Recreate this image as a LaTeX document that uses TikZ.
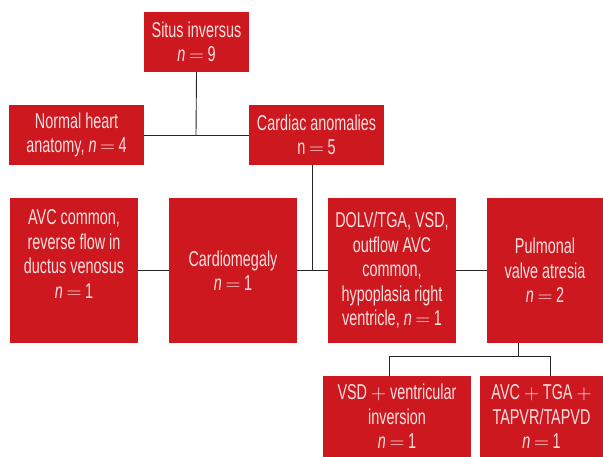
\documentclass[tikz,border=0pt]{standalone}
\usepackage{fontspec}
\setmainfont{Liberation Sans}[FakeStretch=0.67]
\definecolor{boxred}{RGB}{204,24,30}
\definecolor{txt}{RGB}{250,225,225}
\newcommand{\eqs}{\,$=$\,}
\begin{document}
\begin{tikzpicture}[x=1pt,y=-1pt,
  box/.style={fill=boxred,draw=none,inner sep=0pt,text=txt,align=center,
    font=\fontsize{21.5}{24.5}\selectfont},
  txtonly/.style={text=txt,align=center,inner sep=0pt,font=\fontsize{21.5}{24.5}\selectfont},
  conn/.style={draw=black!85,line width=0.9pt}]
\useasboundingbox (0,0) rectangle (603,457);
\node[box,minimum width=105,minimum height=60] (situs) at (196.5,42) {Situs inversus\\\textit{n}\eqs9};
\node[box,minimum width=135,minimum height=60] (normal) at (76.5,135) {Normal heart\\anatomy, \textit{n}\eqs4};
\node[box,minimum width=135,minimum height=60] (cardiac) at (316.5,135) {Cardiac anomalies\\n\eqs5};
\node[box,minimum width=128,minimum height=145] (avc) at (74,270.5) {};
\node[txtonly] (avct) at (74,254) {AVC common,\\reverse flow in\\ductus venosus\\\textit{n}\eqs1};
\node[box,minimum width=128,minimum height=145] (cardio) at (233,270.5) {Cardiomegaly\\\textit{n}\eqs1};
\node[box,minimum width=128,minimum height=145] (dolv) at (392,270.5) {DOLV/TGA, VSD,\\outflow AVC\\common,\\hypoplasia right\\ventricle, \textit{n}\eqs1};
\node[box,minimum width=116,minimum height=145] (pulm) at (545,270.5) {Pulmonal\\valve atresia\\\textit{n}\eqs2};
\node[box,minimum width=148,minimum height=81] (vsd) at (397,416.5) {VSD $+$ ventricular\\inversion\\\textit{n}\eqs1};
\node[box,minimum width=123,minimum height=81] (avctga) at (541.5,416.5) {AVC $+$ TGA $+$\\TAPVR/TAPVD\\\textit{n}\eqs1};
% connectors
\coordinate (j1) at (196,135);
\coordinate (c1) at (312,165);
\coordinate (c2) at (312,270);
\coordinate (p1) at (518,343);
\coordinate (p2) at (518,356);
\coordinate (l1) at (389,356);
\coordinate (l2) at (389,376);
\coordinate (r1) at (550,356);
\coordinate (r2) at (550,376);
\draw[conn] (situs.south) -- (j1);
\draw[conn] (normal.east) -- (cardiac.west);
\draw[conn] (c1) -- (c2);
\draw[conn] (avc.east) -- (cardio.west);
\draw[conn] (cardio.east) -- (dolv.west);
\draw[conn] (dolv.east) -- (pulm.west);
\draw[conn] (p1) -- (p2);
\draw[conn] (l2) -- (l1) -- (r1) -- (r2);
\end{tikzpicture}
\end{document}
